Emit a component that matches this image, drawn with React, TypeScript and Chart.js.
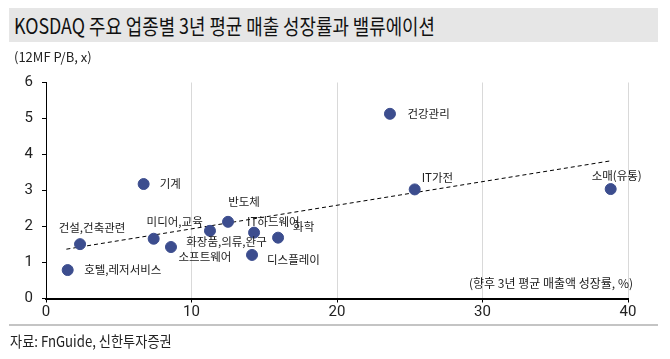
import React, { useEffect, useRef } from "react";
import { Chart, registerables } from "chart.js";

Chart.register(...registerables);

// ---- data ----
const sectors = [
  "호텔,레저서비스",
  "건설,건축관련",
  "기계",
  "미디어,교육",
  "소프트웨어",
  "화장품,의류,완구",
  "반도체",
  "IT하드웨어",
  "디스플레이",
  "화학",
  "건강관리",
  "IT가전",
  "소매(유통)",
];
const growth = [1.49, 2.34, 6.71, 7.4, 8.59, 11.27, 12.51, 14.3, 14.16, 15.95, 23.64, 25.34, 38.81];
const pb = [0.79, 1.51, 3.18, 1.66, 1.43, 1.88, 2.13, 1.83, 1.21, 1.69, 5.13, 3.03, 3.04];
const trendX = [1.4, 38.9];
const trendY = [1.37, 3.83];
const xTicks = [0, 10, 20, 30, 40];
const yTicks = [0, 1, 2, 3, 4, 5, 6];

const titleText = "KOSDAQ 주요 업종별 3년 평균 매출 성장률과 밸류에이션";
const unitText = "(12MF P/B, x)";
const xAxisTitle = "(향후 3년 평균 매출액 성장률, %)";
const sourceText = "자료: FnGuide, 신한투자증권";

// ---- label placement (style) ----
const labelPlacement: { dx: number; dy: number; align: CanvasTextAlign }[] = [
  { dx: 16.5, dy: 0, align: "left" },
  { dx: 12, dy: -17, align: "center" },
  { dx: 16, dy: 0, align: "left" },
  { dx: 21, dy: -17, align: "center" },
  { dx: 34, dy: 10, align: "center" },
  { dx: 16.5, dy: 11, align: "center" },
  { dx: 16, dy: -20, align: "center" },
  { dx: -7, dy: -11, align: "left" },
  { dx: 15, dy: 5, align: "left" },
  { dx: 15, dy: -11, align: "left" },
  { dx: 17.5, dy: 0, align: "left" },
  { dx: 7, dy: -12, align: "left" },
  { dx: 6, dy: -13, align: "center" },
];

const FONT = "'Noto Sans CJK KR', 'Noto Sans', sans-serif";
const TICK_FONT = "'Liberation Sans Narrow', 'Roboto', sans-serif";
const POINT_COLOR = "#3c4d8e";

export default function App() {
  const ref = useRef<HTMLCanvasElement | null>(null);

  useEffect(() => {
    const canvas = ref.current;
    if (!canvas) return;

    const labelsPlugin = {
      id: "pointLabels",
      afterDatasetsDraw(chart: any) {
        const ctx = chart.ctx as CanvasRenderingContext2D;
        const meta = chart.getDatasetMeta(0);
        ctx.save();
        ctx.font = `11.5px ${FONT}`;
        ctx.fillStyle = "#1a1a1a";
        ctx.textBaseline = "middle";
        meta.data.forEach((el: any, i: number) => {
          const p = labelPlacement[i];
          ctx.textAlign = p.align;
          ctx.fillText(sectors[i], el.x + p.dx, el.y + p.dy);
        });
        const ca = chart.chartArea;
        ctx.font = `12px ${FONT}`;
        ctx.textAlign = "right";
        ctx.fillText(xAxisTitle, ca.right + 5, ca.bottom - 15.5);
        ctx.restore();
      },
    };

    const chart = new Chart(canvas, {
      type: "scatter",
      data: {
        datasets: [
          {
            type: "scatter",
            data: growth.map((x, i) => ({ x, y: pb[i] })),
            backgroundColor: POINT_COLOR,
            borderColor: POINT_COLOR,
            pointRadius: 5.5,
            order: 0,
          },
          {
            type: "line",
            data: trendX.map((x, i) => ({ x, y: trendY[i] })),
            borderColor: "#000",
            borderWidth: 1,
            borderDash: [4, 3],
            pointRadius: 0,
            fill: false,
            order: 1,
          } as any,
        ],
      },
      options: {
        animation: false,
        responsive: false,
        layout: { padding: { left: 0, right: 34, top: 74.5, bottom: 32.5 } },
        plugins: { legend: { display: false }, tooltip: { enabled: false } },
        scales: {
          x: {
            type: "linear",
            min: 0,
            max: 40,
            afterBuildTicks: (s: any) => {
              s.ticks = xTicks.map((v) => ({ value: v }));
            },
            afterFit: (s: any) => {
              s.height = 20;
            },
            border: { color: "#000", width: 2 },
            grid: {
              color: (c: any) => (c.tick && c.tick.value === 0 ? "rgba(0,0,0,0)" : "#d9d9d9"),
              tickColor: "#000",
              tickLength: 4,
              drawOnChartArea: true,
            },
            ticks: { color: "#222", font: { family: TICK_FONT, size: 15 }, padding: 1 },
          },
          y: {
            type: "linear",
            min: 0,
            max: 6,
            afterBuildTicks: (s: any) => {
              s.ticks = yTicks.map((v) => ({ value: v }));
            },
            afterFit: (s: any) => {
              s.width = 38;
            },
            border: { color: "#000", width: 1 },
            grid: { drawOnChartArea: false, tickColor: "#000", tickLength: 4 },
            ticks: { color: "#222", font: { family: TICK_FONT, size: 15 }, padding: 9 },
          },
        },
      },
      plugins: [labelsPlugin],
    });

    return () => chart.destroy();
  }, []);

  return (
    <div style={{ position: "relative", width: 654, height: 343, fontFamily: FONT, color: "#1a1a1a" }}>
      <canvas ref={ref} width={654} height={343} style={{ position: "absolute", left: 0, top: 0 }} />
      <div
        style={{
          position: "absolute",
          left: 1,
          top: 0,
          width: 649,
          height: 34,
          background: "#e6e6e6",
        }}
      />
      <div
        style={{
          position: "absolute",
          left: 6,
          top: 2,
          height: 30,
          lineHeight: "30px",
          fontSize: 21,
          whiteSpace: "nowrap",
          transform: "scaleX(0.85)",
          transformOrigin: "left center",
          color: "#111",
        }}
      >
        {titleText}
      </div>
      <div
        style={{
          position: "absolute",
          left: 6,
          top: 40,
          fontSize: 13,
          lineHeight: "18px",
          whiteSpace: "nowrap",
          color: "#222",
        }}
      >
        {unitText}
      </div>
      <div
        style={{
          position: "absolute",
          left: 1,
          top: 316,
          width: 649,
          height: 2,
          background: "#c4c4c4",
        }}
      />
      <div
        style={{
          position: "absolute",
          left: 2,
          top: 323,
          fontSize: 15,
          lineHeight: "20px",
          whiteSpace: "nowrap",
          transform: "scaleX(0.88)",
          transformOrigin: "left center",
          color: "#222",
        }}
      >
        {sourceText}
      </div>
    </div>
  );
}
